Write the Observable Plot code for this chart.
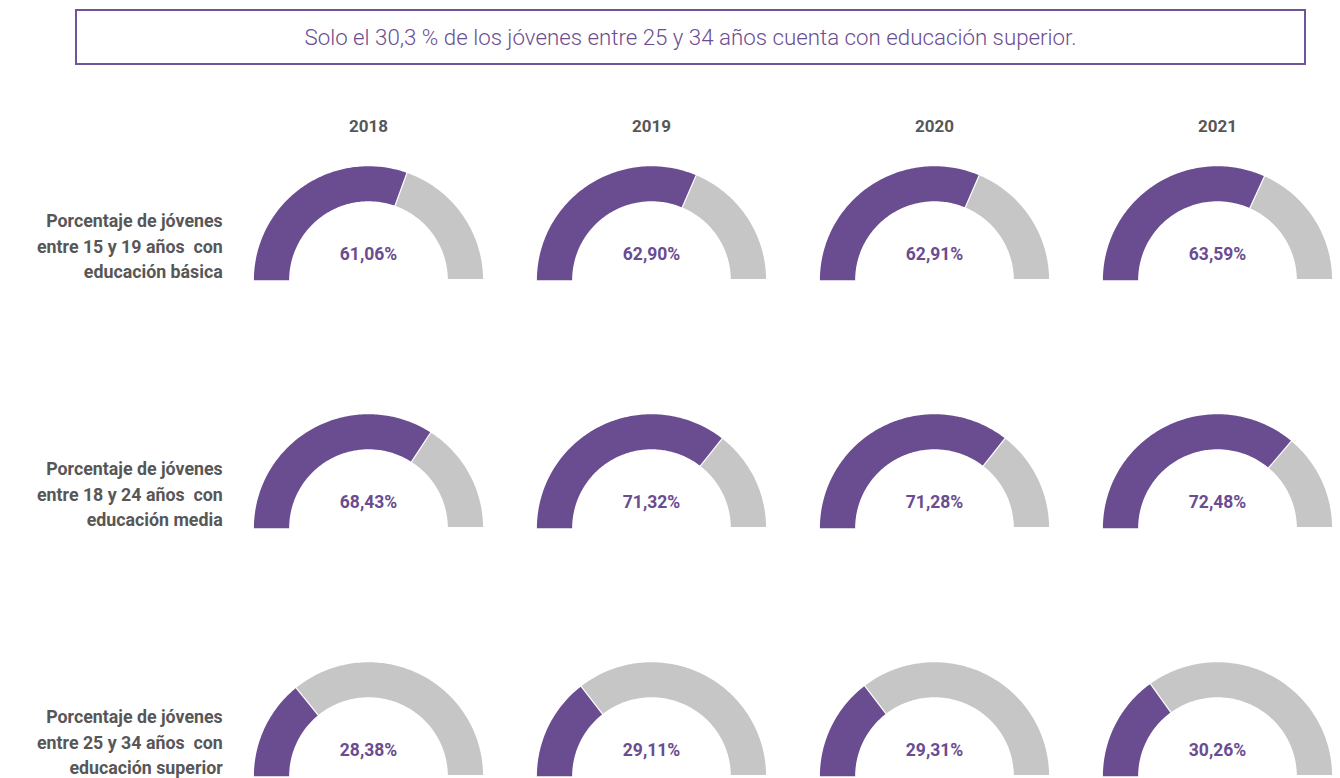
<!DOCTYPE html>
<html><head><meta charset="utf-8">
<script src="https://cdn.jsdelivr.net/npm/d3@7"></script>
<script src="https://cdn.jsdelivr.net/npm/@observablehq/plot@0.6"></script>
<style>
html,body{margin:0;padding:0;background:#fff;overflow:hidden;width:1340px;height:778px;}
#title{position:absolute;left:75px;top:9px;width:1231px;height:56px;box-sizing:border-box;border:2px solid #6f5499;display:flex;align-items:center;justify-content:center;font-family:Roboto,sans-serif;font-size:22.3px;color:#6b4d91;font-weight:300;padding-left:0;}
#chart{position:absolute;left:0;top:72px;}
</style></head><body>
<div id="title">Solo el 30,3 % de los jóvenes entre 25 y 34 años cuenta con educación superior.</div>
<div id="chart"></div>
<script>
// ---- data ----
const years = ["2018", "2019", "2020", "2021"];
const indicators = [
  "Porcentaje de jóvenes\nentre 15 y 19 años  con\neducación básica",
  "Porcentaje de jóvenes\nentre 18 y 24 años  con\neducación media",
  "Porcentaje de jóvenes\nentre 25 y 34 años  con\neducación superior"
];
const basica = [61.06, 62.90, 62.91, 63.59];
const media = [68.43, 71.32, 71.28, 72.48];
const superior = [28.38, 29.11, 29.31, 30.26];

const seriesValues = [basica, media, superior];
const records = [];
indicators.forEach((ind, i) => years.forEach((yr, j) => records.push({indicator: ind, year: yr, value: seriesValues[i][j]})));

// ---- gauge geometry (unit circle, half donut) ----
const R_OUT = 1, R_IN = 0.675;
function ring(a0, a1) {
  const n = Math.max(2, Math.ceil(Math.abs(a0 - a1) / (Math.PI / 180)));
  const pts = [];
  for (let k = 0; k <= n; k++) { const a = a0 + (a1 - a0) * k / n; pts.push([R_OUT * Math.cos(a), R_OUT * Math.sin(a)]); }
  for (let k = n; k >= 0; k--) { const a = a0 + (a1 - a0) * k / n; pts.push([R_IN * Math.cos(a), R_IN * Math.sin(a)]); }
  return pts;
}
const achieved = [], remaining = [];
records.forEach((d, i) => {
  const split = Math.PI - (d.value / 100) * Math.PI;
  ring(Math.PI, split).forEach(([x, y]) => achieved.push({id: i, x, y, year: d.year, indicator: d.indicator}));
  ring(split, 0).forEach(([x, y]) => remaining.push({id: i, x, y, year: d.year, indicator: d.indicator}));
});

// ---- layout ----
const W = 1340, H = 706;
const mLeft = 254.8, mRight = 9.8, mTop = 134.8, mBottom = 0;
const fxPad = 0.2, fyPad = 0.7;
const fxStep = (W - mLeft - mRight) / (years.length - fxPad);
const fxBand = fxStep * (1 - fxPad);
const fyStep = (H - mTop - mBottom) / (indicators.length - fyPad);
const fyBand = fyStep * (1 - fyPad);
const unit = 116;                  // px per unit radius
const baseOffset = 36;             // gauge baseline below band center (px)
const xHalf = fxBand / 2 / unit;
const yTop = (fyBand / 2 + baseOffset) / unit;
const yBottom = yTop - fyBand / unit;

const PURPLE = "#6a4c90", GREY = "#c6c6c6", TEXT = "#575757";

const chart = Plot.plot({
  width: W, height: H,
  marginLeft: mLeft, marginRight: mRight, marginTop: mTop, marginBottom: mBottom,
  x: {domain: [-xHalf, xHalf], axis: null},
  y: {domain: [yBottom, yTop], axis: null},
  fx: {domain: years, paddingInner: fxPad, paddingOuter: 0, axis: null},
  fy: {domain: indicators, paddingInner: fyPad, paddingOuter: 0, axis: null},
  style: {fontFamily: "Roboto, sans-serif", background: "white", overflow: "visible"},
  marks: [
    Plot.line(achieved, {x: "x", y: "y", z: "id", fx: "year", fy: "indicator", fill: PURPLE, stroke: "white", strokeWidth: 2.4, curve: "linear"}),
    Plot.line(remaining, {x: "x", y: "y", z: "id", fx: "year", fy: "indicator", fill: GREY, stroke: "white", strokeWidth: 2.4, curve: "linear"}),
    Plot.text(records, {fx: "year", fy: "indicator", frameAnchor: "middle", dy: baseOffset - 26,
      text: d => d.value.toFixed(2).replace(".", ",") + "%", fill: PURPLE, fontWeight: 700, fontSize: 17.5}),
    Plot.text(years, {fx: d => d, fy: () => indicators[0], text: d => d, frameAnchor: "top", lineAnchor: "middle",
      dy: 54 - mTop, fill: TEXT, fontWeight: 700, fontSize: 17}),
    Plot.text(indicators, {fy: d => d, fx: () => years[0], text: d => d, frameAnchor: "left", textAnchor: "end",
      lineAnchor: "middle", dx: -(mLeft - 222), lineHeight: 1.42, fill: TEXT, fontWeight: 700, fontSize: 17.8})
  ]
});
document.getElementById("chart").appendChild(chart);
</script>
</body></html>
